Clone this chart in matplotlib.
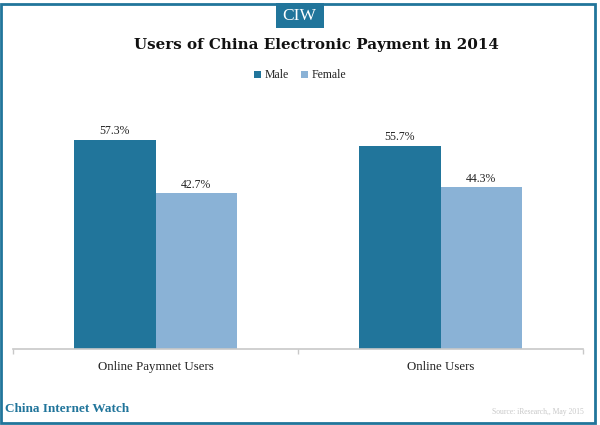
import numpy as np
import matplotlib
matplotlib.use('Agg')
import matplotlib.pyplot as plt
from matplotlib.patches import Rectangle

categories = ['Online Paymnet Users', 'Online Users']
male = [57.3, 55.7]
female = [42.7, 44.3]

W = 600
H = 425
blue = '#21759b'
light = '#8ab2d6'

plt.rcParams['font.family'] = ['Liberation Serif', 'DejaVu Serif']

fig = plt.figure(figsize=(6, 4.25), dpi=100)
ax = fig.add_axes([13/W, 1-349/H, 570/W, 219/H])

x = np.arange(len(categories))
width = 0.286
b1 = ax.bar(x-width/2, male, width, color=blue, label='Male')
b2 = ax.bar(x+width/2, female, width, color=light, label='Female')

for bars in (b1, b2):
    for b in bars:
        ax.annotate('%.1f%%' % b.get_height(), (b.get_x()+b.get_width()/2, b.get_height()),
                    xytext=(0, 1.8), textcoords='offset points', ha='center', va='bottom',
                    fontsize=8.5, color='#222222')

ax.set_xlim(-0.5, 1.5)
ax.set_ylim(0, 60)
ax.set_yticks([])
ax.set_xticks([-0.5, 0.5, 1.5], minor=False)
ax.set_xticklabels([])
ax.tick_params(axis='x', direction='out', length=3.5, color='#c8c8c8', width=1)
ax.xaxis.set_ticks_position('bottom')
for s in ['top', 'left', 'right']:
    ax.spines[s].set_visible(False)
ax.spines['bottom'].set_color('#c8c8c8')
ax.spines['bottom'].set_linewidth(1.2)
ax.set_axisbelow(True)
for i, c in enumerate(categories):
    ax.annotate(c, (i, 0), xytext=(0, -8.5), textcoords='offset points', ha='center', va='top',
                fontsize=9.3, color='#222222', annotation_clip=False)

leg = fig.legend(loc='center', bbox_to_anchor=(300/W, 1-75.5/H), ncol=2, frameon=False,
                 fontsize=8.5, handlelength=0.6, handleheight=0.6, handletextpad=0.3,
                 columnspacing=1.0, labelcolor='#222222')

fig.text(316.5/W, 1-45/H, 'Users of China Electronic Payment in 2014', ha='center', va='center',
         fontsize=10.9, fontweight='bold', color='#111111', family='DejaVu Serif')

# frame and logo
fig.add_artist(Rectangle((1/W, 2.5/H), 594/W, 419/H, transform=fig.transFigure, fill=False,
                         edgecolor=blue, linewidth=2))
fig.add_artist(Rectangle((276/W, 1-28/H), 47.5/W, 25/H, transform=fig.transFigure,
                         facecolor=blue, edgecolor='none'))
fig.text(299/W, 1-15.5/H, 'CIW', ha='center', va='center', fontsize=12.5, color='white')
fig.text(5/W, 1-408.5/H, 'China Internet Watch', ha='left', va='center', fontsize=9.5,
         fontweight='bold', color=blue)
fig.text(584/W, 1-412.5/H, 'Source: iResearch,, May 2015', ha='right', va='center', fontsize=5.5,
         color='#c8c8c8')

fig.savefig('out.png', dpi=100)
